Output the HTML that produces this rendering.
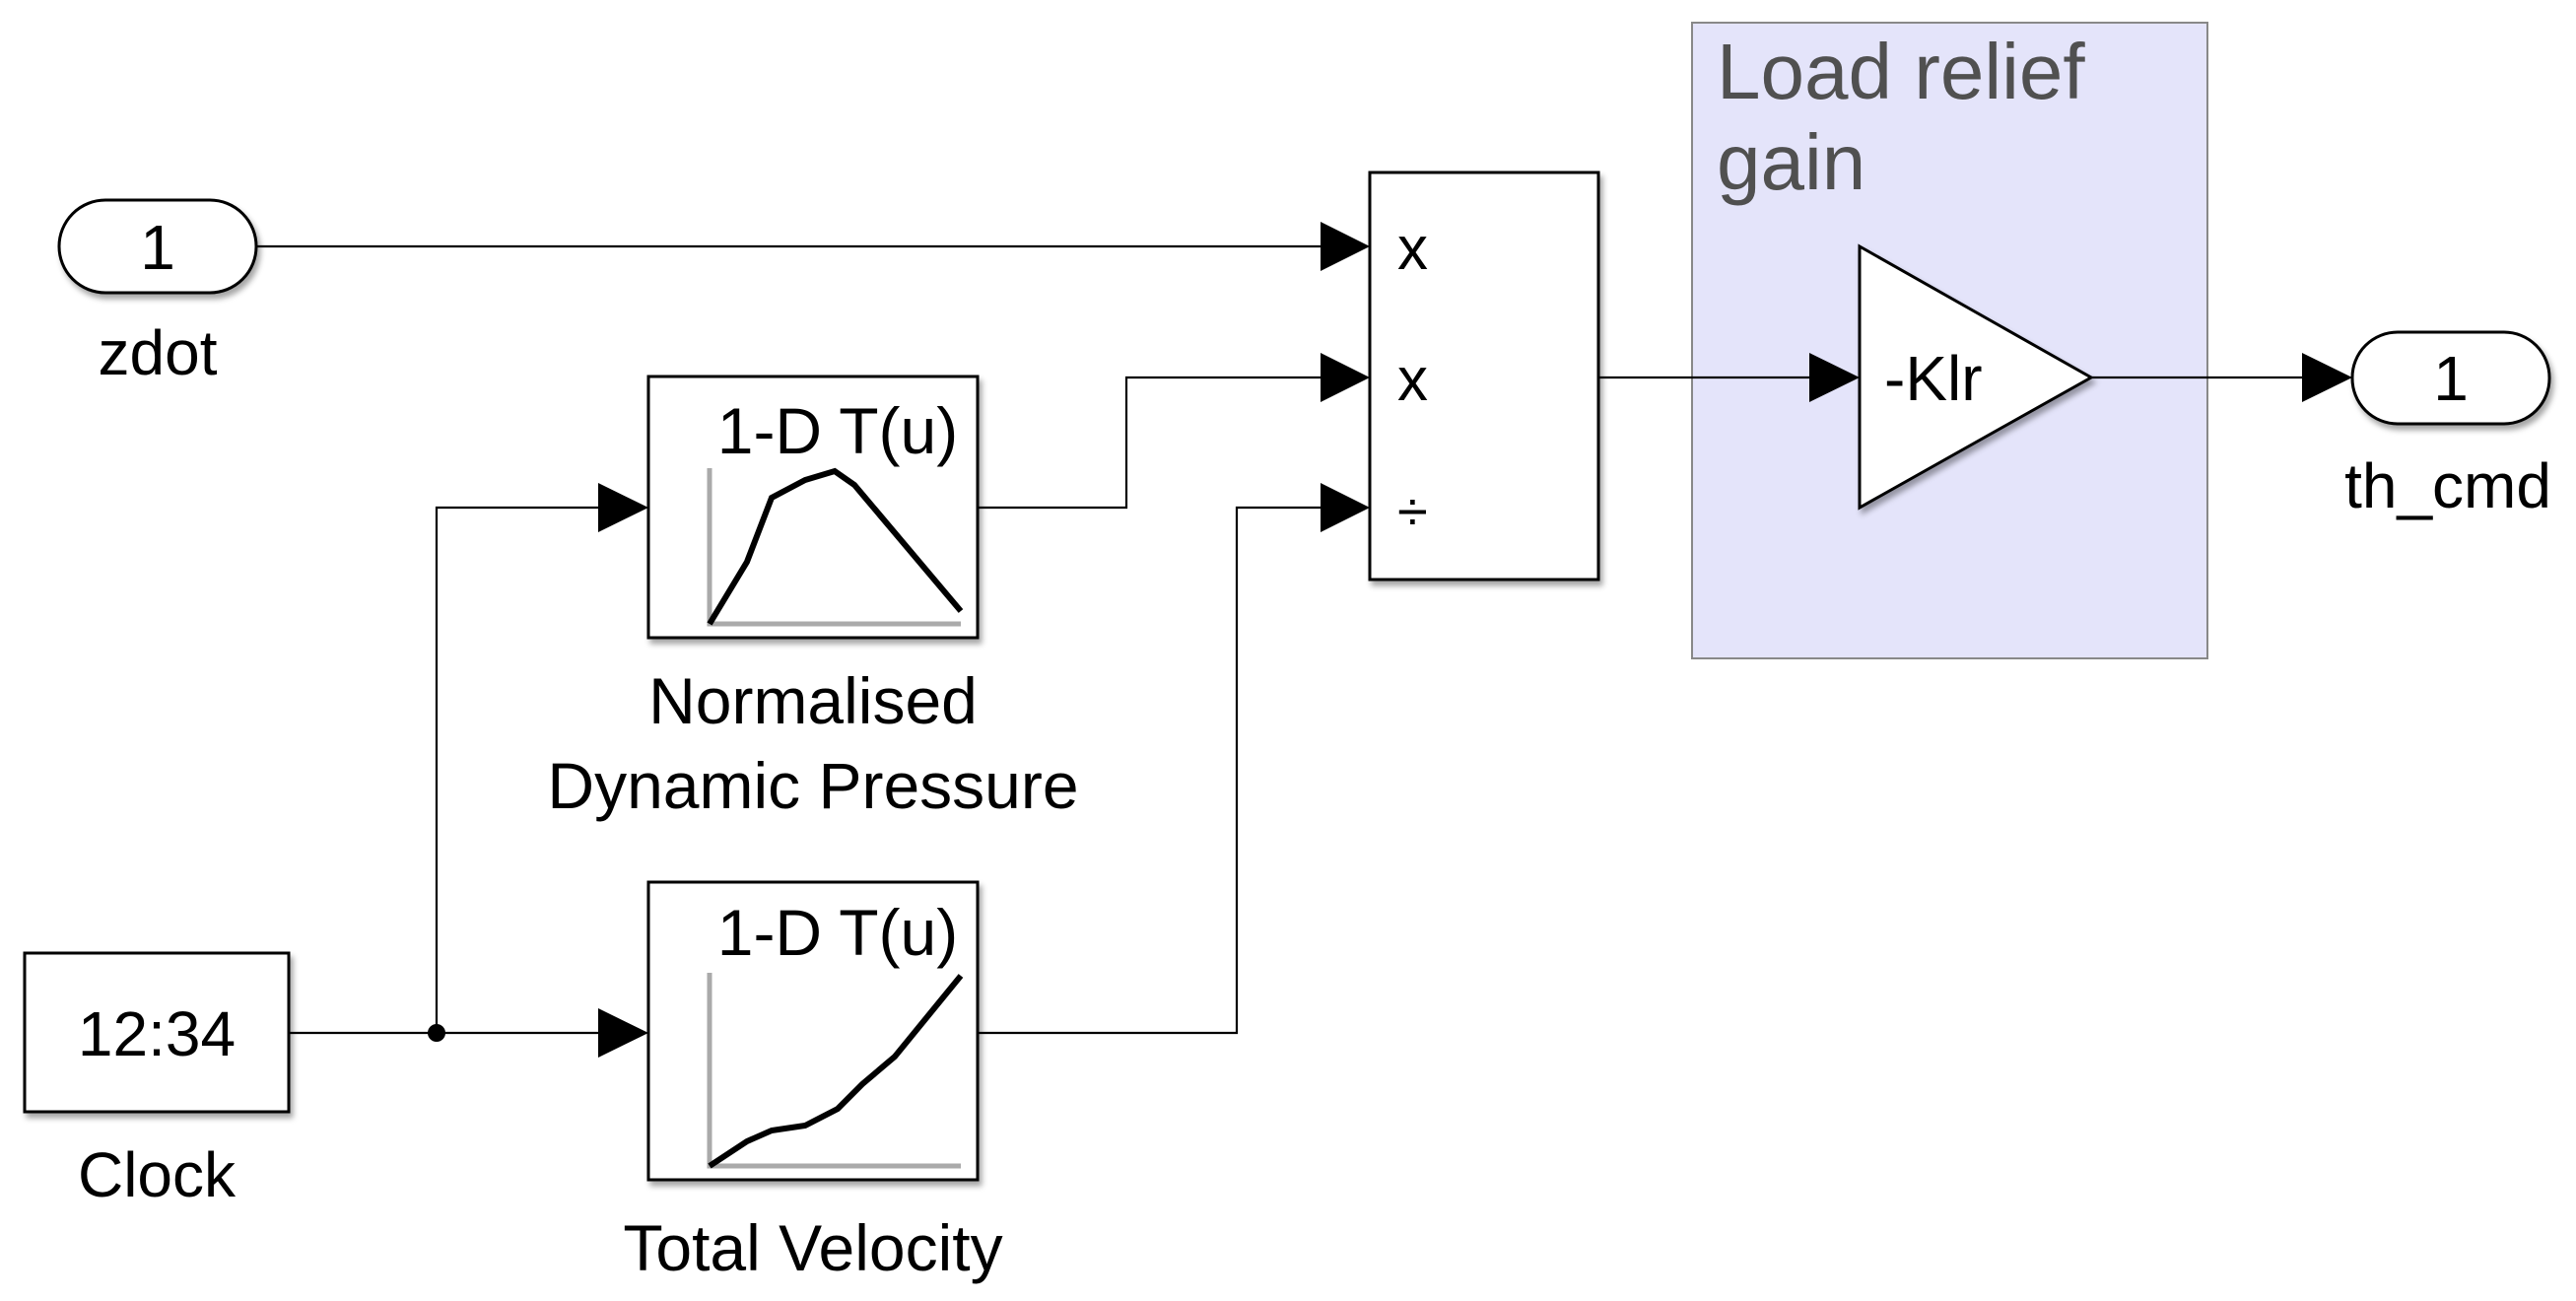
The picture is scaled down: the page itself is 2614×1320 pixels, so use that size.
<!DOCTYPE html>
<html><head><meta charset="utf-8"><style>
html,body{margin:0;padding:0;background:#fff;}
svg{display:block;}
text{font-family:"Liberation Sans",Arial,sans-serif;}
</style></head><body>
<svg width="2614" height="1320" viewBox="0 0 2614 1320" xmlns="http://www.w3.org/2000/svg">
<defs>
<filter id="sh" x="-10%" y="-10%" width="130%" height="130%"><feDropShadow dx="3" dy="5" stdDeviation="3" flood-color="#000" flood-opacity="0.35"/></filter>
</defs>
<rect x="1717" y="23" width="523" height="645" fill="#e4e4fa" stroke="#888" stroke-width="2"/>
<text x="1742" y="100" font-size="80" fill="#505050">Load relief</text>
<text x="1742" y="192" font-size="80" fill="#505050">gain</text>

<g stroke="#000" stroke-width="2.2" fill="none">
<line x1="260" y1="250" x2="1345" y2="250"/>
<polyline points="992,515 1143,515 1143,383 1345,383"/>
<polyline points="992,1048 1255,1048 1255,515 1345,515"/>
<line x1="293" y1="1048" x2="612" y2="1048"/>
<polyline points="443,1048 443,515 612,515"/>
<line x1="1622" y1="383" x2="1840" y2="383"/>
<line x1="2122" y1="383" x2="2340" y2="383"/>
</g>
<circle cx="443" cy="1048" r="9" fill="#000"/>
<g fill="#000">
<polygon points="1340,225 1390,250 1340,275"/>
<polygon points="1340,358 1390,383 1340,408"/>
<polygon points="1340,490 1390,515 1340,540"/>
<polygon points="607,490 658,515 607,540"/>
<polygon points="607,1023 658,1048 607,1073"/>
<polygon points="1836,358 1887,383 1836,408"/>
<polygon points="2336,358 2387,383 2336,408"/>
</g>

<rect x="60" y="203" width="200" height="94" rx="47" fill="#fff" stroke="#000" stroke-width="3" filter="url(#sh)"/>
<text x="160" y="273" font-size="64" text-anchor="middle">1</text>
<text x="160" y="380" font-size="64" text-anchor="middle">zdot</text>

<rect x="1390" y="175" width="232" height="413" fill="#fff" stroke="#000" stroke-width="3" filter="url(#sh)"/>
<text x="1418" y="273" font-size="62">x</text>
<text x="1418" y="406" font-size="62">x</text>
<text x="1418" y="538" font-size="56">÷</text>

<rect x="658" y="382" width="334" height="265" fill="#fff" stroke="#000" stroke-width="3" filter="url(#sh)"/>
<text x="850" y="460" font-size="66" text-anchor="middle">1-D T(u)</text>
<polyline points="720,475 720,633 975,633" fill="none" stroke="#aaa" stroke-width="5"/>
<polyline points="720,633 758,570 783,505 817,487 847,478 867,492 975,620" fill="none" stroke="#000" stroke-width="6"/>
<text x="825" y="734" font-size="66" text-anchor="middle">Normalised</text>
<text x="825" y="820" font-size="66" text-anchor="middle">Dynamic Pressure</text>

<rect x="658" y="895" width="334" height="302" fill="#fff" stroke="#000" stroke-width="3" filter="url(#sh)"/>
<text x="850" y="969" font-size="66" text-anchor="middle">1-D T(u)</text>
<polyline points="720,987 720,1183 975,1183" fill="none" stroke="#aaa" stroke-width="5"/>
<polyline points="720,1183 758,1158 783,1147 817,1142 850,1125 875,1100 908,1072 975,990" fill="none" stroke="#000" stroke-width="6"/>
<text x="825" y="1289" font-size="66" text-anchor="middle">Total Velocity</text>

<rect x="25" y="967" width="268" height="161" fill="#fff" stroke="#000" stroke-width="3" filter="url(#sh)"/>
<text x="159" y="1071" font-size="64" text-anchor="middle">12:34</text>
<text x="159" y="1214" font-size="64" text-anchor="middle">Clock</text>

<polygon points="1887,250 2122,383 1887,515" fill="#fff" stroke="#000" stroke-width="3" filter="url(#sh)"/>
<text x="1912" y="406" font-size="64">-Klr</text>

<rect x="2387" y="337" width="200" height="93" rx="46" fill="#fff" stroke="#000" stroke-width="3" filter="url(#sh)"/>
<text x="2487" y="406" font-size="64" text-anchor="middle">1</text>
<text x="2484" y="515" font-size="64" text-anchor="middle">th_cmd</text>
</svg>
</body></html>
